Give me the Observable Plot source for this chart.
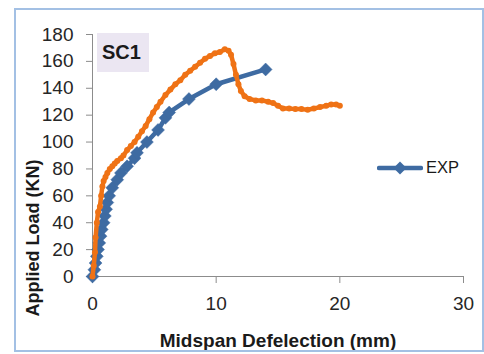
<!DOCTYPE html>
<html><head><meta charset="utf-8">
<script src="https://cdn.jsdelivr.net/npm/d3@7"></script>
<script src="https://cdn.jsdelivr.net/npm/@observablehq/plot@0.6"></script>
<style>
body{margin:0;background:#fff;}
#wrap{position:relative;width:484px;height:354px;font-family:"Liberation Sans",Arial,sans-serif;overflow:hidden;}
#frame{position:absolute;left:14px;top:8px;width:470px;height:344px;border:2px solid #a3c0e4;box-sizing:border-box;pointer-events:none;}
#tag{position:absolute;left:97px;top:33px;width:52px;height:39px;background:#ebe6f2;font-weight:bold;font-size:20px;line-height:39px;text-indent:5px;color:#1a1a1a;box-sizing:border-box;}
#legend{position:absolute;left:377px;top:158px;display:flex;align-items:center;font-size:16.5px;color:#1a1a1a;}
#legend span{margin-left:3px;}
#ytitle{position:absolute;left:33px;top:238px;transform:translate(-50%,-50%) rotate(-90deg);white-space:nowrap;font-weight:bold;font-size:18px;color:#1a1a1a;line-height:1;}
#chart{position:absolute;left:0;top:0;}
</style></head>
<body>
<div id="wrap">
  <div id="chart"></div>
  <div id="tag">SC1</div>
  <div id="legend"></div>
  <div id="ytitle"></div>
  <div id="frame"></div>
</div>
<script>
// Data
const expDefl = [0,0.15,0.25,0.35,0.45,0.55,0.65,0.75,0.9,1.0,1.1,1.2,1.35,1.6,2.0,2.3,2.8,3.4,3.6,4.4,5.3,5.9,6.2,7.8,10,14];
const expLoad = [0,5,10,15,20,25,30,35,40,45,50,55,60,66,72,77,82,88,92,100,109,118,122,132,143,154];
const feDefl = [0,0.1,0.2,0.25,0.35,0.45,0.6,0.7,0.8,0.9,1.05,1.2,1.4,1.6,1.8,2.0,2.3,2.5,2.8,3.1,3.4,3.7,4.0,4.3,4.6,4.9,5.2,5.5,5.9,6.3,6.7,7.1,7.5,7.9,8.3,8.7,9.1,9.5,9.9,10.3,10.7,11.0,11.2,11.4,11.6,11.8,12.0,12.3,12.7,13.2,13.7,14.2,14.6,15.0,15.4,15.9,16.4,16.9,17.4,17.9,18.4,18.9,19.3,19.7,20.0];
const feLoad = [0,8,18,29,40,48,52,60,67,71,74,77,80,82,84,86,88,90,94,97,100,104,108,112,117,122,126,130,135,139,143,146,150,153,156,159,162,164,166,167,169,168,165,158,150,143,138,134,132,131,131,130,129,127,125,125,124.5,124.5,124,125,126,127,128,128,127];
const xTicks = [0,10,20,30];
const yTicks = [0,20,40,60,80,100,120,140,160,180];
const xTitle = "Midspan Defelection (mm)";
const yTitle = "Applied Load (KN)";
const legendLabel = "EXP";

const blue = "#3e6ba2";
const orange = "#ef7215";
const exp = expDefl.map((d,i)=>({x:d,y:expLoad[i]}));
const fe = feDefl.map((d,i)=>({x:d,y:feLoad[i]}));

const chart = Plot.plot({
  width:484, height:354,
  marginLeft:92, marginRight:21, marginTop:34, marginBottom:78,
  style:{fontFamily:'"Liberation Sans",Arial,sans-serif', fontSize:"19px", color:"#262626", background:"transparent"},
  x:{domain:[0,30]},
  y:{domain:[0,180]},
  marks:[
    Plot.axisX({ticks:xTicks, tickSize:7, tickPadding:13, stroke:"#8c8c8c", label:null, fontSize:19, tickFormat:d=>d}),
    Plot.axisY({ticks:yTicks, tickSize:6, tickPadding:13, stroke:"#8c8c8c", label:null, fontSize:19, tickFormat:d=>d}),
    Plot.ruleY([0], {stroke:"#8c8c8c"}),
    Plot.ruleX([0], {stroke:"#8c8c8c"}),
    Plot.line(exp, {x:"x", y:"y", stroke:blue, strokeWidth:4.5}),
    Plot.dot(exp, {x:"x", y:"y", symbol:"diamond2", r:5.8, fill:blue, stroke:blue, strokeWidth:0.5}),
    Plot.line(fe, {x:"x", y:"y", stroke:orange, strokeWidth:4.5}),
    Plot.dot(fe, {x:"x", y:"y", r:3, fill:orange}),
    Plot.text([xTitle], {frameAnchor:"bottom", dy:64, fontWeight:"bold", fontSize:19, fill:"#1a1a1a", lineAnchor:"middle"})
  ]
});
document.getElementById("chart").appendChild(chart);
document.getElementById("ytitle").textContent = yTitle;

// legend
const leg = document.getElementById("legend");
leg.innerHTML = `<svg width="46" height="16"><line x1="2" y1="8" x2="44" y2="8" stroke="${blue}" stroke-width="4.5" stroke-linecap="round"/><path d="M23,1.5 L29.5,8 L23,14.5 L16.5,8 Z" fill="${blue}"/></svg><span>${legendLabel}</span>`;
</script>
</body></html>
